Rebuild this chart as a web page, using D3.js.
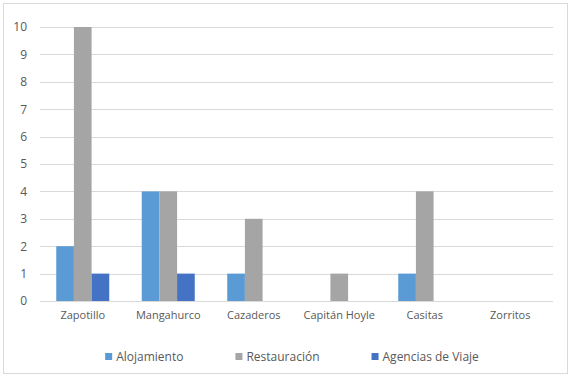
<!DOCTYPE html>
<html>
<head>
<meta charset="utf-8">
<script src="https://cdn.jsdelivr.net/npm/d3@7"></script>
<style>
  body { margin: 0; background: #fff; }
  text { font-family: "Open Sans", sans-serif; fill: #595959; }
</style>
</head>
<body>
<div id="content"></div>
<script>
// chart data
const categories = ["Zapotillo", "Mangahurco", "Cazaderos", "Capitán Hoyle", "Casitas", "Zorritos"];
const seriesNames = ["Alojamiento", "Restauración", "Agencias de Viaje"];
const alojamiento = [2, 4, 1, 0, 1, 0];
const restauracion = [10, 4, 3, 1, 4, 0];
const agencias = [1, 1, 0, 0, 0, 0];
const yTicks = [0, 1, 2, 3, 4, 5, 6, 7, 8, 9, 10];
const colors = ["#5B9BD5", "#A5A5A5", "#4472C4"];

const width = 573, height = 378;
const series = [alojamiento, restauracion, agencias];

const svg = d3.select("#content")
    .append("svg")
    .attr("width", width)
    .attr("height", height);

// outer border
svg.append("rect")
    .attr("x", 3.5).attr("y", 3.5)
    .attr("width", 564).attr("height", 370)
    .attr("fill", "#fff")
    .attr("stroke", "#d9d9d9");

const plotLeft = 40, plotRight = 553, plotTop = 27, plotBottom = 301;

const xScale = d3.scaleBand()
    .domain(categories)
    .range([plotLeft, plotRight]);

const xInner = d3.scaleBand()
    .domain(seriesNames)
    .range([0, xScale.bandwidth() * 0.62])
    .paddingInner(0);

const yScale = d3.scaleLinear()
    .domain([0, 10])
    .range([plotBottom, plotTop]);

// gridlines
svg.append("g")
    .selectAll("line")
    .data(yTicks)
    .enter()
    .append("line")
    .attr("x1", plotLeft).attr("x2", plotRight)
    .attr("y1", d => Math.round(yScale(d)) + 0.5)
    .attr("y2", d => Math.round(yScale(d)) + 0.5)
    .attr("stroke", "#d9d9d9");

// y axis labels
const yAxis = d3.axisLeft(yScale).tickValues(yTicks).tickSize(0).tickPadding(0);
const yg = svg.append("g")
    .attr("transform", "translate(27,0)")
    .call(yAxis);
yg.select(".domain").remove();
yg.selectAll("text")
    .style("font-size", "12px")
    .attr("fill", "#595959")
    .style("font-family", "'Open Sans', sans-serif");

// bars
const groupOffset = (xScale.bandwidth() - xInner.range()[1]) / 2;
seriesNames.forEach((name, i) => {
    svg.append("g")
        .selectAll("rect")
        .data(series[i])
        .enter()
        .append("rect")
        .attr("x", (d, j) => xScale(categories[j]) + groupOffset + xInner(name))
        .attr("y", d => yScale(d))
        .attr("width", xInner.bandwidth())
        .attr("height", d => yScale(0) - yScale(d))
        .attr("fill", colors[i]);
});

// x axis labels
const xAxis = d3.axisBottom(xScale).tickSize(0).tickPadding(0);
const xg = svg.append("g")
    .attr("transform", "translate(0,311)")
    .call(xAxis);
xg.select(".domain").remove();
xg.selectAll("text")
    .style("font-size", "11px")
    .attr("fill", "#595959")
    .style("font-family", "'Open Sans', sans-serif");

// legend
const legend = svg.append("g");
const items = legend.selectAll("g")
    .data(seriesNames)
    .enter()
    .append("g");
items.append("rect")
    .attr("width", 7).attr("height", 7)
    .attr("y", 353)
    .attr("fill", (d, i) => colors[i]);
items.append("text")
    .attr("x", 11)
    .attr("y", 361)
    .style("font-size", "12px")
    .text(d => d);

let widths = [];
items.each(function () {
    widths.push(11 + d3.select(this).select("text").node().getComputedTextLength());
});
const gap = 52;
const total = d3.sum(widths) + gap * (widths.length - 1);
let xPos = 292 - total / 2;
items.each(function (d, i) {
    d3.select(this).attr("transform", "translate(" + xPos + ",0)");
    xPos += widths[i] + gap;
});
</script>
</body>
</html>
